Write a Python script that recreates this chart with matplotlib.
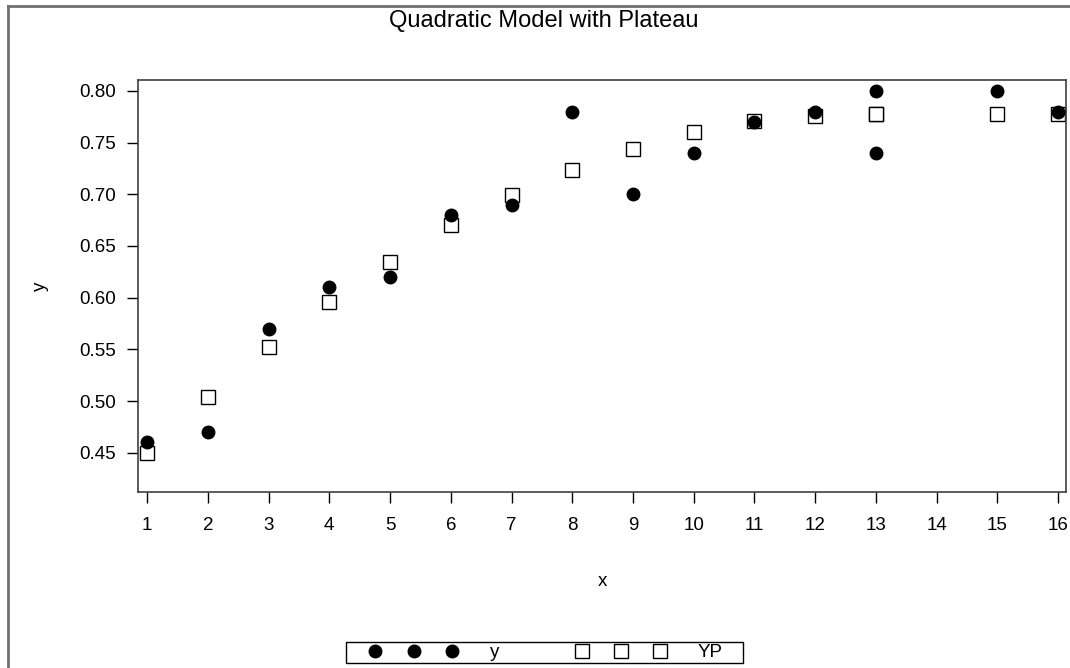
import matplotlib
matplotlib.use('Agg')
import matplotlib.pyplot as plt
from matplotlib.lines import Line2D
from matplotlib.patches import Rectangle

plt.rcParams['font.family'] = ['Liberation Sans', 'DejaVu Sans']

# observed data
x = [1, 2, 3, 4, 5, 6, 7, 8, 9, 10, 11, 12, 13, 13, 15, 16]
y = [0.46, 0.47, 0.57, 0.61, 0.62, 0.68, 0.69, 0.78, 0.70, 0.74, 0.77, 0.78, 0.74, 0.80, 0.80, 0.78]
# predicted values
yp = [0.450, 0.504, 0.552, 0.596, 0.635, 0.670, 0.699, 0.724, 0.744, 0.760, 0.771, 0.776, 0.778, 0.778, 0.778, 0.778]

xticks = list(range(1, 17))
yticks = [0.45, 0.50, 0.55, 0.60, 0.65, 0.70, 0.75, 0.80]

W, H = 1070, 668
fig = plt.figure(figsize=(W/100, H/100), dpi=100)
ax = fig.add_axes([138/W, 1 - 492/H, (1066-138)/W, (492-80)/H])

ax.plot(x, yp, linestyle='none', marker='s', markersize=9.5, markerfacecolor='white',
        markeredgecolor='black', markeredgewidth=1.0, zorder=2)
ax.plot(x, y, linestyle='none', marker='o', markersize=9, color='black', zorder=3)

ax.set_xlim(0.85, 16.13)
ax.set_ylim(0.412, 0.8106)
ax.set_xticks(xticks)
ax.set_xticklabels([str(t) for t in xticks])
ax.set_yticks(yticks)
ax.set_yticklabels(['%.2f' % t for t in yticks])
ax.tick_params(direction='out', length=8, width=1, labelsize=13.5, pad=8, colors='black')
ax.tick_params(axis='x', pad=10)
for s in ax.spines.values():
    s.set_color('#404040')
    s.set_linewidth(1.2)

ax.set_xlabel('x', fontsize=13.5, labelpad=28)
ax.set_ylabel('y', fontsize=13.5, labelpad=22)
fig.text(544/W, 1 - 21/H, 'Quadratic Model with Plateau', ha='center', va='center', fontsize=17)

# outer frame (only top and left visible)
fig.add_artist(Line2D([8/W, 8/W], [0, 1 - 6/H], color='#707070', linewidth=2, transform=fig.transFigure))
fig.add_artist(Line2D([8/W, 1], [1 - 6/H, 1 - 6/H], color='#707070', linewidth=2, transform=fig.transFigure))

# legend box
fig.add_artist(Rectangle((346/W, 1 - 663/H), (743-346)/W, (663-642)/H, transform=fig.transFigure,
                         facecolor='none', edgecolor='black', linewidth=1.0))
h_y = Line2D([], [], linestyle='none', marker='o', markersize=9, color='black')
h_yp = Line2D([], [], linestyle='none', marker='s', markersize=9.5, markerfacecolor='white',
              markeredgecolor='black', markeredgewidth=1.0)
leg = fig.legend([h_y, h_yp], ['y', 'YP'], loc='center left', bbox_to_anchor=(369/W, 1 - 652.5/H),
                 ncol=2, numpoints=3, handlelength=4.75, handletextpad=1.7, columnspacing=4.1,
                 fontsize=13.5, frameon=False, borderpad=0, borderaxespad=0)

fig.savefig('out.png', dpi=100)
